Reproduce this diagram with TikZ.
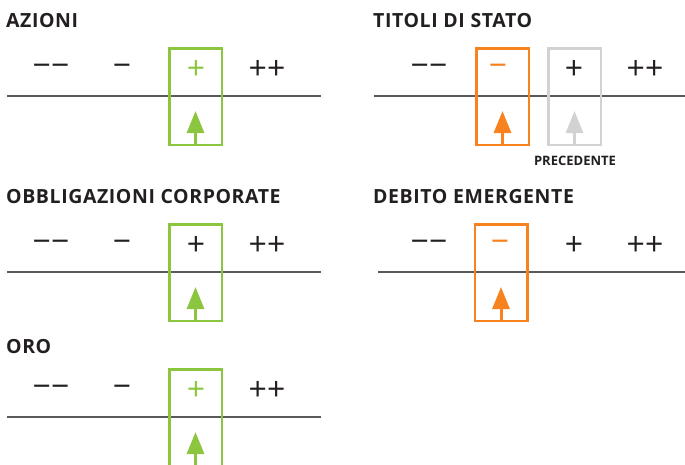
\documentclass[tikz,border=0pt]{standalone}
\usepackage{fontspec}
\setmainfont{Open Sans}
\newfontfamily\titlefont[LetterSpace=3]{Open Sans}
\usetikzlibrary{arrows.meta}

\definecolor{ink}{HTML}{231F20}
\definecolor{axisgray}{HTML}{58595B}
\definecolor{upgreen}{HTML}{8CC63F}
\definecolor{downorange}{HTML}{F7821F}
\definecolor{oldgray}{HTML}{D1D2D4}

\begin{document}
\begin{tikzpicture}[x=1pt,y=-1pt,
    title/.style={anchor=base west,inner sep=0,text=ink,
      font=\titlefont\bfseries\fontsize{19.5}{19.5}\selectfont},
    sym/.style={inner sep=0,text=ink,font=\fontsize{32}{32}\selectfont},
    axis/.style={draw=axisgray,line width=1.2pt},
    pick/.style={draw=#1,line width=2.5pt,minimum width=52.5pt,
      minimum height=96.5pt,inner sep=0},
    up/.style={draw=#1,line width=3pt,-{Triangle[length=22pt,width=17pt]}}]
    \useasboundingbox (0,0) rectangle (685,464);

    % azioni
    \node[title] (t1) at (6,27) {AZIONI};
    \coordinate (l1a) at (7,96);
    \coordinate (l1b) at (321,96);
    \draw[axis] (l1a) -- (l1b);
    \node[pick=upgreen] (k1) at (195.5,96.5) {};
    \node[sym] (s1a) at (51,70) {−−};
    \node[sym] (s1b) at (122,70) {−};
    \node[sym,text=upgreen] (s1c) at (196,70) {+};
    \node[sym] (s1d) at (267,70) {++};
    \coordinate (p1) at (195.5,111);
    \draw[up=upgreen] (k1.south) -- (p1);

    % titoli di stato
    \node[title] (t2) at (373,27) {TITOLI DI STATO};
    \coordinate (l2a) at (374,96);
    \coordinate (l2b) at (685,96);
    \draw[axis] (l2a) -- (l2b);
    \node[pick=downorange] (k2) at (502.5,96.5) {};
    \node[pick=oldgray] (k2old) at (574.5,96.5) {};
    \node[sym] (s2a) at (429,70) {−−};
    \node[sym,text=downorange] (s2b) at (498,70) {−};
    \node[sym] (s2c) at (574,70) {+};
    \node[sym] (s2d) at (645,70) {++};
    \coordinate (p2) at (502.5,111);
    \coordinate (p2old) at (574.5,111);
    \draw[up=downorange] (k2.south) -- (p2);
    \draw[up=oldgray] (k2old.south) -- (p2old);
    \node[inner sep=0,anchor=base,text=ink,font=\bfseries\fontsize{13}{13}\selectfont]
      (prev) at (575,165) {PRECEDENTE};

    % obbligazioni corporate
    \node[title] (t3) at (6,203) {OBBLIGAZIONI CORPORATE};
    \coordinate (l3a) at (7,272);
    \coordinate (l3b) at (321,272);
    \draw[axis] (l3a) -- (l3b);
    \node[pick=upgreen] (k3) at (195.5,272.5) {};
    \node[sym] (s3a) at (51,246) {−−};
    \node[sym] (s3b) at (122,246) {−};
    \node[sym] (s3c) at (196,246) {+};
    \node[sym] (s3d) at (267,246) {++};
    \coordinate (p3) at (195.5,287);
    \draw[up=upgreen] (k3.south) -- (p3);

    % debito emergente
    \node[title] (t4) at (373,203) {DEBITO EMERGENTE};
    \coordinate (l4a) at (378,272);
    \coordinate (l4b) at (685,272);
    \draw[axis] (l4a) -- (l4b);
    \node[pick=downorange] (k4) at (501,272.5) {};
    \node[sym] (s4a) at (429,246) {−−};
    \node[sym,text=downorange] (s4b) at (500,246) {−};
    \node[sym] (s4c) at (574,246) {+};
    \node[sym] (s4d) at (645,246) {++};
    \coordinate (p4) at (501,287);
    \draw[up=downorange] (k4.south) -- (p4);

    % oro
    \node[title] (t5) at (6,353) {ORO};
    \coordinate (l5a) at (7,417);
    \coordinate (l5b) at (321,417);
    \draw[axis] (l5a) -- (l5b);
    \node[pick=upgreen] (k5) at (195.5,417.5) {};
    \node[sym] (s5a) at (51,391) {−−};
    \node[sym] (s5b) at (122,391) {−};
    \node[sym,text=upgreen] (s5c) at (196,391) {+};
    \node[sym] (s5d) at (267,391) {++};
    \coordinate (p5) at (195.5,432);
    \draw[up=upgreen] (k5.south) -- (p5);
\end{tikzpicture}
\end{document}
